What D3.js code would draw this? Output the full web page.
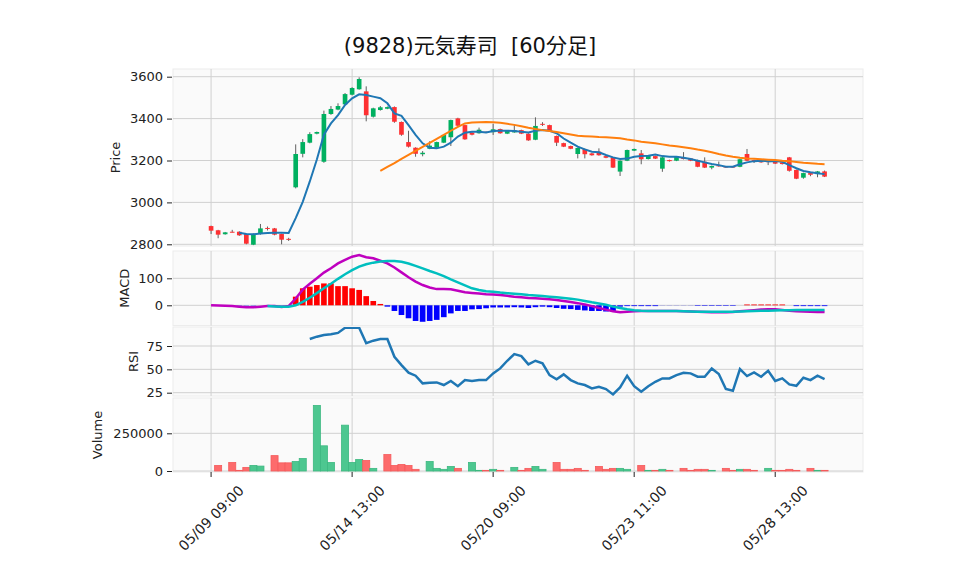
<!DOCTYPE html>
<html><head><meta charset="utf-8">
<script src="https://cdn.jsdelivr.net/npm/d3@7"></script>
<style>body{margin:0;background:#fff}svg{display:block}</style>
</head><body><div id="c"></div>
<script>
const title = "(9828)元気寿司  [60分足]";
const tickIdx = [0, 20, 40, 60, 80];
const tickLabels = ["05/09 09:00", "05/14 13:00", "05/20 09:00", "05/23 11:00", "05/28 13:00"];
const open  = [2887,2867,2848,2860,2860,2849,2798,2849,2878,2876,2849,2826,3072,3232,3285,3328,3194,3422,3443,3468,3514,3540,3530,3409,3441,3447,3455,3384,3288,3261,3230,3256,3261,3285,3311,3401,3369,3333,3330,3337,3335,3350,3328,3334,3345,3328,3299,3375,3369,3317,3283,3269,3231,3255,3234,3242,3221,3215,3147,3199,3247,3234,3207,3221,3161,3202,3199,3213,3210,3202,3194,3166,3178,3171,3171,3170,3231,3202,3197,3197,3197,3191,3215,3155,3118,3140,3135,3148];
const high  = [2889,2869,2859,2869,2862,2851,2852,2897,2885,2878,2851,2831,3277,3302,3335,3338,3438,3460,3473,3522,3550,3597,3554,3452,3460,3458,3458,3386,3342,3263,3245,3292,3290,3325,3395,3404,3371,3335,3357,3339,3375,3352,3344,3374,3347,3330,3406,3383,3371,3319,3285,3271,3262,3257,3236,3258,3223,3217,3201,3252,3257,3250,3225,3223,3217,3204,3220,3240,3212,3204,3215,3176,3195,3173,3173,3208,3255,3204,3199,3199,3199,3193,3217,3157,3142,3142,3150,3152];
const low   = [2849,2829,2846,2857,2840,2800,2796,2846,2866,2843,2800,2816,3067,3215,3282,3325,3189,3418,3440,3465,3511,3538,3387,3405,3438,3445,3380,3318,3262,3218,3220,3254,3259,3283,3269,3364,3299,3320,3328,3331,3322,3328,3326,3332,3326,3294,3297,3365,3340,3269,3264,3254,3210,3210,3223,3223,3211,3164,3126,3197,3245,3182,3205,3207,3146,3195,3197,3205,3197,3168,3164,3158,3170,3166,3166,3168,3197,3188,3189,3178,3183,3181,3147,3111,3113,3125,3120,3121];
const close = [2865,2846,2857,2859,2843,2803,2849,2876,2876,2846,2822,2824,3231,3288,3326,3336,3422,3446,3460,3517,3546,3589,3416,3449,3454,3455,3385,3323,3266,3232,3237,3271,3288,3322,3393,3366,3301,3323,3347,3333,3349,3330,3342,3345,3328,3296,3365,3373,3342,3285,3266,3256,3260,3230,3225,3225,3213,3166,3199,3250,3255,3206,3223,3209,3215,3197,3218,3207,3199,3170,3166,3174,3172,3168,3168,3206,3199,3194,3191,3192,3185,3183,3151,3113,3140,3132,3148,3123];
const volume = [0,37000,0,56500,4300,24000,37000,32600,0,102000,54000,54000,63000,82600,0,435000,167000,56500,0,304000,56500,76000,69500,17400,0,109000,37000,43500,37000,11000,0,63000,17400,11000,30400,17400,0,56500,4300,4300,11000,4300,0,24000,4300,17400,30400,11000,0,56500,11000,11000,17400,4300,0,30400,11000,17400,17400,11000,0,37000,4300,4300,11000,4300,0,17400,4300,11000,11000,4300,0,17400,4300,11000,11000,4300,0,17400,4300,4300,11000,4300,0,17400,4300,4300];
const volUp = [0,0,0,0,0,0,1,1,0,0,0,0,1,1,1,1,1,1,1,1,1,1,0,1,1,0,0,0,0,0,1,1,1,1,1,0,0,1,1,0,1,0,0,1,0,0,1,1,0,0,0,0,0,0,0,0,0,0,1,1,0,0,1,0,1,0,0,0,0,0,0,1,0,0,0,1,0,0,0,1,0,0,0,0,0,0,1,0];
const ma5 = [null,null,null,null,2855,2849,2848,2851,2854,2855,2855,2854,2925,3003,3100,3205,3323,3377,3417,3465,3497,3516,3513,3505,3497,3473,3425,3413,3369,3322,3282,3261,3258,3266,3285,3314,3333,3337,3337,3334,3341,3342,3342,3341,3337,3334,3342,3345,3342,3330,3305,3285,3266,3253,3242,3239,3226,3215,3207,3209,3218,3221,3223,3229,3221,3218,3218,3213,3207,3199,3191,3183,3178,3170,3170,3182,3191,3197,3199,3197,3197,3194,3178,3163,3150,3144,3139,3135];
const ma25 = [null,null,null,null,null,null,null,null,null,null,null,null,null,null,null,null,null,null,null,null,null,null,null,null,3150,3169,3188,3208,3227,3246,3265,3284,3303,3322,3342,3361,3377,3381,3383,3384,3383,3380,3375,3370,3363,3356,3350,3345,3341,3336,3330,3324,3318,3316,3314,3312,3311,3309,3306,3300,3296,3290,3286,3282,3277,3272,3268,3263,3258,3252,3247,3239,3231,3224,3218,3213,3210,3208,3206,3204,3202,3199,3197,3193,3189,3187,3184,3182];
const macd = [0,-1,-2,-3,-5,-7,-7,-5,-3,-3,-6,-3,25,58,80,100,121,137,155,168,180,186,178,174,165,155,140,122,104,88,75,66,60,60,59,54,48,46,44,41,40,38,35,32,30,27,26,24,22,20,16,12,8,3,-3,-10,-16,-22,-26,-24,-22,-21,-21,-21,-21,-21,-21,-22,-23,-24,-25,-26,-26,-26,-25,-22,-20,-18,-16,-15,-15,-17,-20,-22,-23,-24,-25,-25];
const signal = [null,null,null,null,null,null,null,null,-3,-4,-5,-5,0,13,28,45,63,80,98,115,130,143,152,158,162,164,164,161,155,146,137,127,118,108,96,85,74,63,57,52,50,47,45,43,41,38,36,34,32,30,27,24,21,16,11,7,2,-5,-10,-15,-18,-20,-21,-21,-21,-21,-21,-22,-23,-24,-24,-24,-24,-24,-24,-23,-22,-21,-20,-20,-19,-18,-18,-17,-17,-17,-17,-17];
const hist = [0,0,-1,-1,-1,-1,-1,0,0,0,-1,0,32,63,69,75,81,81,71,71,63,57,34,16,5,-5,-21,-36,-48,-58,-61,-58,-54,-44,-30,-21,-21,-15,-14,-11,-8,-8,-8,-7,-8,-10,-7,-5,-7,-10,-13,-14,-17,-19,-21,-21,-23,-23,-5,-3,-3,-3,-3,-3,-0.5,-0.5,-0.5,-0.5,-0.5,-2,-2,-2,-2,-2,-2,0,3,3,3,3,3,3,0,-3,-3,-3,-3,-3];
const rsi = [null,null,null,null,null,null,null,null,null,null,null,null,null,null,82.5,85,86.8,87.5,89,94.5,94.5,94.5,78,80.7,82.5,82.5,63.5,54.6,46.4,43.2,35,35.7,36,33.2,37.5,32,38.5,37.5,38.5,38.5,45.7,51,59.2,66.4,64.2,55.3,59.2,56.4,43.9,39.3,44.6,38.5,35,33.2,29.6,31.4,28.9,23.2,30.7,43.2,32,26,32,36.7,40.3,40.3,43.9,46.4,45.7,42.1,42.1,51,45,28.9,27,50.3,42.8,46.8,42.1,48.5,37.5,40.3,33.9,32.4,41,38.5,43.2,39.6];
const priceTicks = [2800, 3000, 3200, 3400, 3600];
const macdTicks = [0, 100];
const rsiTicks = [25, 50, 75];
const volTicks = [0, 250000];

const W = 958, H = 575;
const L = 173, R = 863;
const FONT = "'DejaVu Sans', 'Noto Sans CJK JP', sans-serif";
const svg = d3.select("#c").append("svg").attr("width", W).attr("height", H)
  .style("font-family", FONT);

const n = close.length;
const x = d3.scaleLinear().domain([-5.4, 92.45]).range([L, R]);
const step = x(1) - x(0);

const panels = [
  {name: "Price", top: 69, bot: 246, y: d3.scaleLinear().domain([2800, 3600]).range([244.3, 76.7]), ticks: priceTicks, lx: 120},
  {name: "MACD", top: 251, bot: 325.5, y: d3.scaleLinear().domain([0, 100]).range([305.3, 278.3]), ticks: macdTicks, lx: 129},
  {name: "RSI", top: 327, bot: 396, y: d3.scaleLinear().domain([25, 75]).range([392.7, 346]), ticks: rsiTicks, lx: 138},
  {name: "Volume", top: 398, bot: 472, y: d3.scaleLinear().domain([0, 250000]).range([471, 433.3]), ticks: volTicks, lx: 102}
];

const defs = svg.append("defs");
panels.forEach((p, k) => {
  defs.append("clipPath").attr("id", "clip" + k).append("rect")
    .attr("x", L).attr("y", p.top).attr("width", R - L).attr("height", p.bot - p.top);
  const g = svg.append("g");
  p.g = g;
  g.append("rect").attr("x", L).attr("y", p.top).attr("width", R - L).attr("height", p.bot - p.top)
    .attr("fill", "#fafafa").attr("stroke", "#ececec").attr("stroke-width", 1);
  g.selectAll(".hg").data(p.ticks).join("line")
    .attr("x1", L).attr("x2", R).attr("y1", d => p.y(d)).attr("y2", d => p.y(d))
    .attr("stroke", "#d0d0d0").attr("stroke-width", 1);
  g.selectAll(".vg").data(tickIdx).join("line")
    .attr("x1", d => x(d)).attr("x2", d => x(d)).attr("y1", p.top).attr("y2", p.bot)
    .attr("stroke", "#d0d0d0").attr("stroke-width", 1);
  const ax = svg.append("g").attr("transform", `translate(${L - 1},0)`)
    .call(d3.axisLeft(p.y).tickValues(p.ticks).tickSize(5).tickPadding(4).tickFormat(d3.format("d")));
  ax.select(".domain").remove();
  ax.selectAll("text").attr("font-size", 13).attr("fill", "#222").style("font-family", FONT);
  ax.selectAll("line").attr("stroke", "#222");
  svg.append("text").attr("transform", `translate(${p.lx},${(p.top + p.bot) / 2}) rotate(-90)`)
    .attr("text-anchor", "middle").attr("font-size", 13).attr("fill", "#222").text(p.name);
  p.c = g.append("g").attr("clip-path", `url(#clip${k})`);
});

const idx = d3.range(n);
const pp = panels[0];
const cw = step * 0.66;
pp.c.selectAll(".wick").data(idx).join("line")
  .attr("x1", i => x(i)).attr("x2", i => x(i))
  .attr("y1", i => pp.y(high[i])).attr("y2", i => pp.y(low[i]))
  .attr("stroke", "#606060").attr("stroke-width", 1);
pp.c.selectAll(".body").data(idx).join("rect")
  .attr("x", i => x(i) - cw / 2).attr("width", cw)
  .attr("y", i => pp.y(Math.max(open[i], close[i])))
  .attr("height", i => Math.max(1, Math.abs(pp.y(open[i]) - pp.y(close[i]))))
  .attr("fill", i => close[i] >= open[i] ? "#00b060" : "#fe3032");
const lineOf = (arr, sc) => d3.line().defined(i => arr[i] != null).x(i => x(i)).y(i => sc(arr[i]))(idx);
pp.c.append("path").attr("d", lineOf(ma5, pp.y)).attr("fill", "none").attr("stroke", "#1f77b4").attr("stroke-width", 2);
pp.c.append("path").attr("d", lineOf(ma25, pp.y)).attr("fill", "none").attr("stroke", "#ff7f0e").attr("stroke-width", 2);

const pm = panels[1];
const hw = step * 0.8;
pm.c.selectAll(".hb").data(idx).join("rect")
  .attr("x", i => x(i) - hw / 2).attr("width", hw)
  .attr("y", i => Math.min(pm.y(hist[i]), pm.y(0)))
  .attr("height", i => Math.abs(pm.y(hist[i]) - pm.y(0)))
  .attr("fill", i => hist[i] >= 0 ? "#ff0000" : "#0000ff");
pm.c.append("path").attr("d", lineOf(macd, pm.y)).attr("fill", "none").attr("stroke", "#bf00bf").attr("stroke-width", 2.5);
pm.c.append("path").attr("d", lineOf(signal, pm.y)).attr("fill", "none").attr("stroke", "#00bfbf").attr("stroke-width", 2.5);

const pr = panels[2];
pr.c.append("path").attr("d", lineOf(rsi, pr.y)).attr("fill", "none").attr("stroke", "#1f77b4").attr("stroke-width", 2.5);

const pv = panels[3];
pv.c.selectAll(".vb").data(idx.filter(i => volume[i] > 0)).join("rect")
  .attr("x", i => x(i) - step / 2).attr("width", step)
  .attr("y", i => pv.y(volume[i])).attr("height", i => pv.y(0) - pv.y(volume[i]))
  .attr("fill", i => volUp[i] ? "#4dc790" : "#fd6b6c")
  .attr("stroke", i => volUp[i] ? "#3cb880" : "#f55a5b").attr("stroke-width", 0.8);

const xt = svg.append("g");
xt.selectAll("line").data(tickIdx).join("line")
  .attr("x1", d => x(d)).attr("x2", d => x(d)).attr("y1", 472).attr("y2", 477)
  .attr("stroke", "#222");
xt.selectAll("text").data(tickIdx).join("text")
  .attr("transform", d => `translate(${x(d)},${518}) rotate(-45)`)
  .attr("text-anchor", "middle").attr("dominant-baseline", "central")
  .attr("font-size", 14).attr("fill", "#222").attr("xml:space", "preserve")
  .style("white-space", "pre")
  .text((d, k) => tickLabels[k]);

svg.append("text").attr("x", 470).attr("y", 53).attr("text-anchor", "middle")
  .attr("font-size", 21).attr("fill", "#111").style("white-space", "pre").text(title);
</script></body></html>
